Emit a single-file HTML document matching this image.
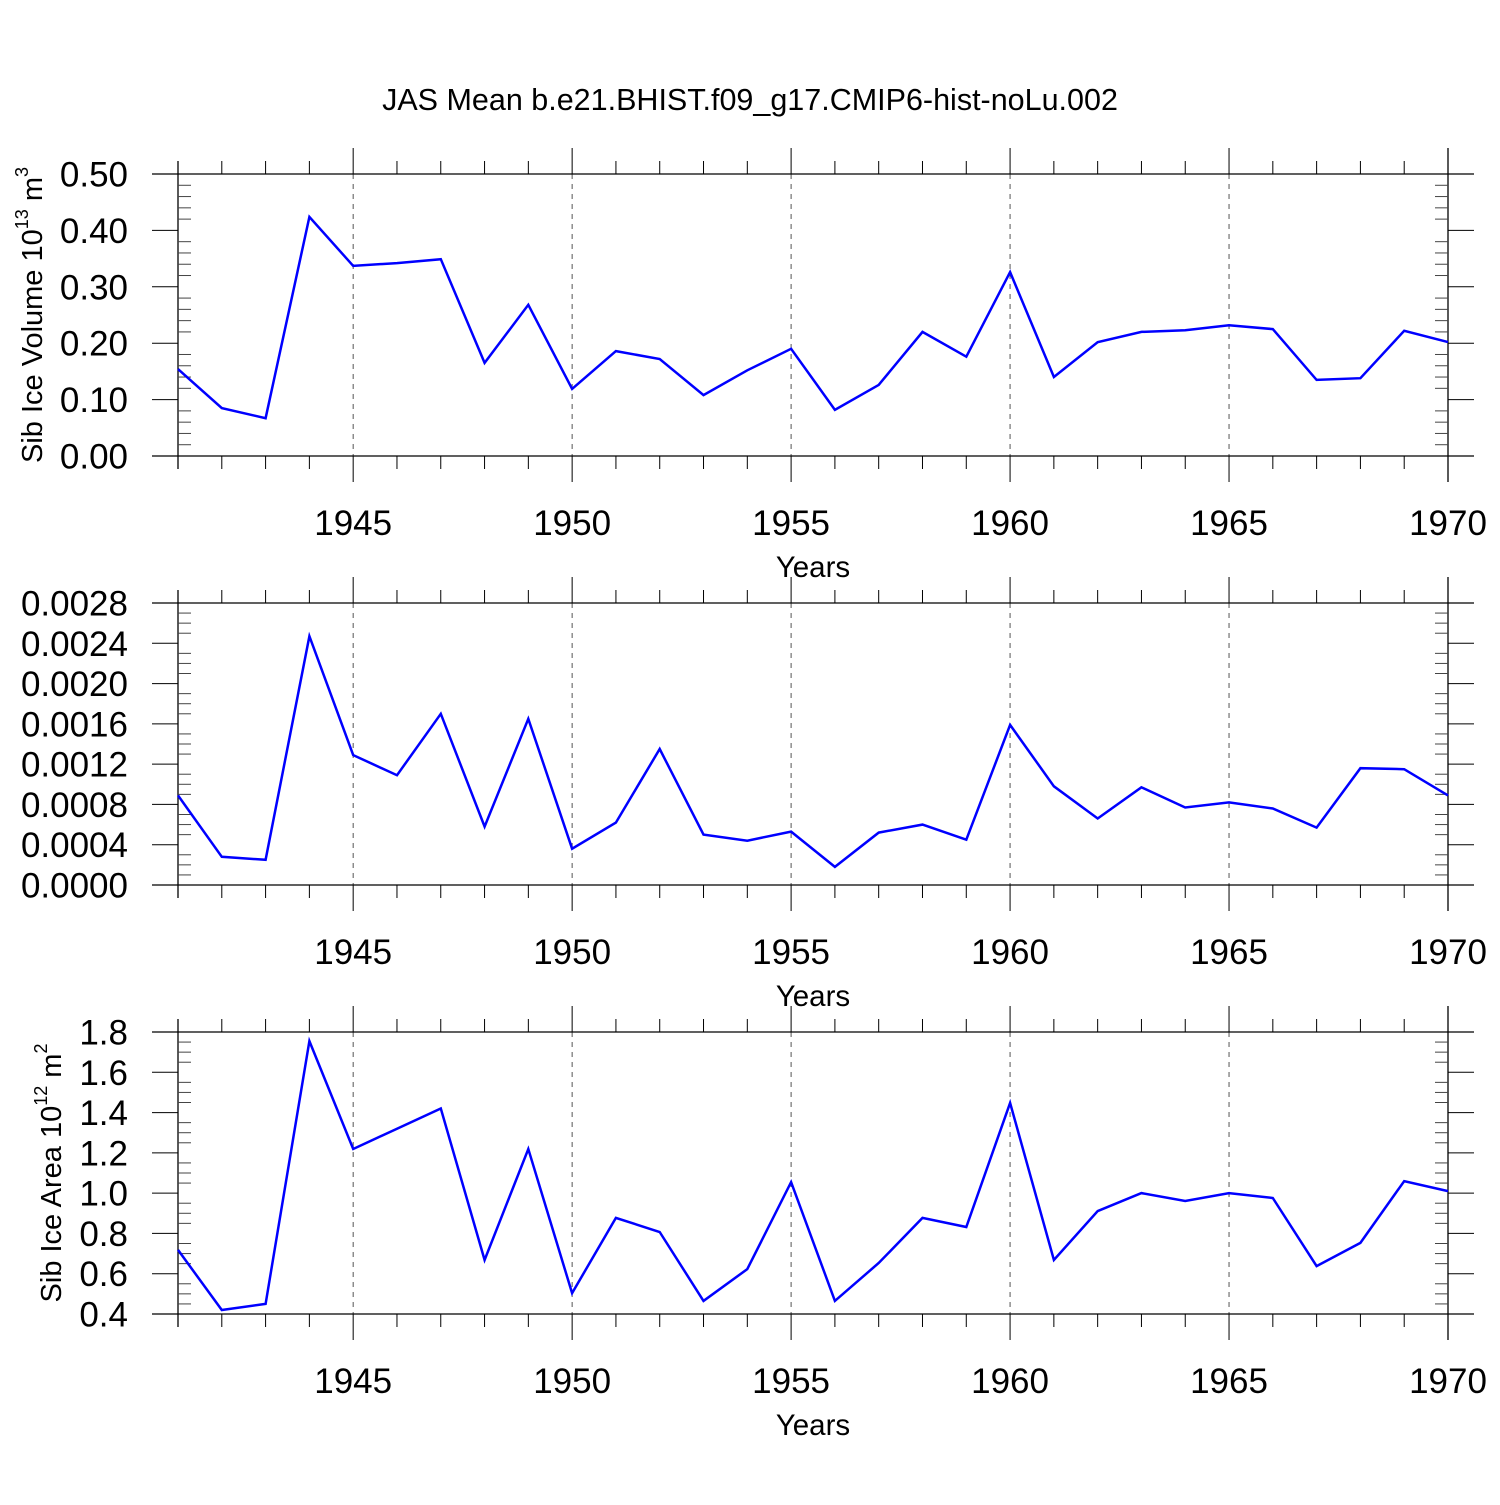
<!DOCTYPE html>
<html><head><meta charset="utf-8"><style>
html,body{margin:0;padding:0;background:#fff}
svg text{font-family:"Liberation Sans",Helvetica,sans-serif;fill:#000}
</style></head><body>
<svg id="chart" width="1500" height="1500" xmlns="http://www.w3.org/2000/svg">
<text x="750" y="110" font-size="30.5" text-anchor="middle">JAS Mean b.e21.BHIST.f09_g17.CMIP6-hist-noLu.002</text>
</svg>
<script>
const years = [1941,1942,1943,1944,1945,1946,1947,1948,1949,1950,1951,1952,1953,1954,1955,1956,1957,1958,1959,1960,1961,1962,1963,1964,1965,1966,1967,1968,1969,1970];
const iceVolume = [0.154,0.085,0.067,0.424,0.337,0.342,0.349,0.165,0.268,0.119,0.186,0.172,0.108,0.152,0.190,0.082,0.126,0.220,0.176,0.326,0.140,0.202,0.220,0.223,0.232,0.225,0.135,0.138,0.222,0.202];
const snowVolume = [0.00089,0.00028,0.00025,0.00247,0.00129,0.00109,0.00170,0.00058,0.00165,0.00036,0.00062,0.00135,0.00050,0.00044,0.00053,0.00018,0.00052,0.00060,0.00045,0.00159,0.00098,0.00066,0.00097,0.00077,0.00082,0.00076,0.00057,0.00116,0.00115,0.00089];
const iceArea = [0.718,0.42,0.45,1.755,1.219,1.32,1.42,0.668,1.219,0.504,0.877,0.807,0.465,0.623,1.055,0.465,0.653,0.877,0.832,1.448,0.668,0.911,1.0,0.961,1.0,0.976,0.638,0.753,1.06,1.01];
const xTickLabels = ["1945","1950","1955","1960","1965","1970"];
const volTicks = ["0.00","0.10","0.20","0.30","0.40","0.50"];
const snowTicks = ["0.0000","0.0004","0.0008","0.0012","0.0016","0.0020","0.0024","0.0028"];
const areaTicks = ["0.4","0.6","0.8","1.0","1.2","1.4","1.6","1.8"];

const NS="http://www.w3.org/2000/svg";
const svg=document.getElementById('chart');
function mk(tag,attrs,parent){const e=document.createElementNS(NS,tag);for(const k in attrs)e.setAttribute(k,attrs[k]);(parent||svg).appendChild(e);return e;}
const X0=178,X1=1448,XMIN=1941,XMAX=1970;
const xs=v=>X0+(v-XMIN)/(XMAX-XMIN)*(X1-X0);

function panel(name,top,ymin,ymax,ticks,minorN,data,title,labelX,sup,unit){
  const bot=top+282;
  const ys=v=>bot-(v-ymin)/(ymax-ymin)*(bot-top);
  const g=mk('g',{});
  
  
  xTickLabels.forEach(l=>{const x=xs(+l);if(+l<XMAX){const gl=mk('line',{x1:x,x2:x,y1:top,y2:bot,stroke:'#555','stroke-width':1,'stroke-dasharray':'5,5'},g);
    }});
  mk('line',{x1:152,x2:1474,y1:top,y2:top,stroke:'#000','stroke-width':1.3},g);
  mk('line',{x1:152,x2:1474,y1:bot,y2:bot,stroke:'#000','stroke-width':1.3},g);
  mk('line',{x1:X0,x2:X0,y1:top-13,y2:bot+13,stroke:'#000','stroke-width':1.3},g);
  mk('line',{x1:X1,x2:X1,y1:top-26,y2:bot+26,stroke:'#000','stroke-width':1.3},g);
  years.forEach(y=>{const x=xs(y);const major=(y%5===0);
    mk('line',{x1:x,x2:x,y1:top-(major?26:13),y2:top,stroke:'#000','stroke-width':1},g);
    mk('line',{x1:x,x2:x,y1:bot,y2:bot+(major?26:13),stroke:'#000','stroke-width':1},g);});
  xTickLabels.forEach(l=>{const t=mk('text',{x:xs(+l),y:bot+79,'font-size':35,'text-anchor':'middle'},g);t.textContent=l;
    });
  const xt=mk('text',{x:813,y:bot+121,'font-size':29.5,'text-anchor':'middle'},g);xt.textContent='Years';
  
  const step=(ymax-ymin)/(ticks.length-1);
  ticks.forEach((l,i)=>{const v=ymin+i*step;const y=ys(v);
    mk('line',{x1:152,x2:X0,y1:y,y2:y,stroke:'#000','stroke-width':1},g);
    mk('line',{x1:X1,x2:1474,y1:y,y2:y,stroke:'#000','stroke-width':1},g);
    const t=mk('text',{x:128,y:y+12.5,'font-size':35,'text-anchor':'end'},g);t.textContent=l;
    
    if(i<ticks.length-1){for(let k=1;k<minorN;k++){const yy=ys(v+step*k/minorN);
      mk('line',{x1:X0,x2:X0+13,y1:yy,y2:yy,stroke:'#444','stroke-width':1},g);
      mk('line',{x1:X1-13,x2:X1,y1:yy,y2:yy,stroke:'#444','stroke-width':1},g);}}
  });
  const cy=(top+bot)/2;
  const yt=mk('text',{x:labelX,y:cy,'font-size':29,'text-anchor':'middle',transform:`rotate(-90 ${labelX} ${cy})`},g);
  
  yt.innerHTML=title+' 10<tspan font-size="18" dy="-14">'+sup+'</tspan><tspan dy="14"> m</tspan><tspan font-size="18" dy="-14">'+unit+'</tspan>';
  const pts=years.map((y,i)=>xs(y).toFixed(1)+','+ys(data[i]).toFixed(1)).join(' ');
  const pl=mk('polyline',{points:pts,fill:'none',stroke:'#0000ff','stroke-width':2.5,'stroke-linejoin':'miter'},g);
  
}
panel('ice-volume',174,0,0.5,volTicks,5,iceVolume,'Sib Ice Volume',42,'13','3');
panel('snow-volume',603,0,0.0028,snowTicks,4,snowVolume,'Sib Snow Volume',-4,'13','3');
panel('ice-area',1032,0.4,1.8,areaTicks,4,iceArea,'Sib Ice Area',61,'12','2');
</script>
</body></html>
